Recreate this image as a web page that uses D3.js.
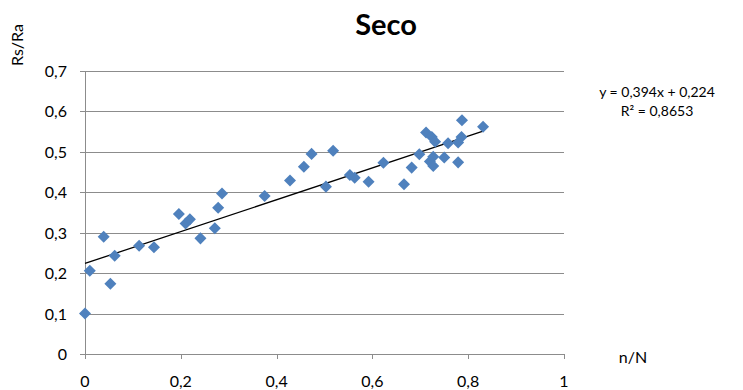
<!DOCTYPE html>
<html>
<head>
<meta charset="utf-8">
<script src="https://cdn.jsdelivr.net/npm/d3@7"></script>
<style>
  body { margin: 0; background: #fff; }
  svg { font-family: Lato, "Open Sans", sans-serif; }
</style>
</head>
<body>
<div id="chart"></div>
<script>
// n/N values
var xVals = [0.000, 0.010, 0.039, 0.053, 0.062, 0.113, 0.144, 0.196, 0.210, 0.219,
             0.241, 0.271, 0.278, 0.286, 0.375, 0.428, 0.457, 0.473, 0.503, 0.518,
             0.553, 0.563, 0.592, 0.623, 0.666, 0.682, 0.698, 0.712, 0.724, 0.731,
             0.720, 0.727, 0.727, 0.750, 0.758, 0.779, 0.786, 0.779, 0.787, 0.831];
// Rs/Ra values
var yVals = [0.100, 0.206, 0.290, 0.174, 0.243, 0.268, 0.264, 0.346, 0.323, 0.333,
             0.286, 0.311, 0.362, 0.397, 0.391, 0.429, 0.463, 0.495, 0.414, 0.503,
             0.443, 0.436, 0.426, 0.473, 0.420, 0.461, 0.494, 0.548, 0.537, 0.525,
             0.476, 0.488, 0.465, 0.486, 0.521, 0.523, 0.537, 0.474, 0.578, 0.562];

var xTicks = [0, 0.2, 0.4, 0.6, 0.8, 1];
var yTicks = [0, 0.1, 0.2, 0.3, 0.4, 0.5, 0.6, 0.7];

// linear trend shown on the chart
var slope = 0.394, intercept = 0.224;

var width = 743, height = 390;
var margin = {top: 71, right: 179, bottom: 36, left: 85};

var svg = d3.select("#chart").append("svg")
    .attr("width", width)
    .attr("height", height);

var x = d3.scaleLinear().domain([0, 1]).range([margin.left, width - margin.right]);
var y = d3.scaleLinear().domain([0, 0.7]).range([height - margin.bottom, margin.top]);

var fmt = function(d){ return d3.format("")(d).replace(".", ","); };

// horizontal gridlines
svg.selectAll(".grid")
    .data(yTicks)
    .enter()
    .append("line")
    .attr("x1", x(0) - 5)
    .attr("x2", x(1))
    .attr("y1", function(d){ return Math.round(y(d)) + 0.5; })
    .attr("y2", function(d){ return Math.round(y(d)) + 0.5; })
    .attr("stroke", "#8c8c8c")
    .attr("stroke-width", 1);

// y axis line
svg.append("line")
    .attr("x1", x(0) + 0.5).attr("x2", x(0) + 0.5)
    .attr("y1", y(0.7)).attr("y2", y(0))
    .attr("stroke", "#8c8c8c");

// x ticks
svg.selectAll(".xt")
    .data(xTicks)
    .enter()
    .append("line")
    .attr("x1", function(d){ return Math.round(x(d)) + 0.5; })
    .attr("x2", function(d){ return Math.round(x(d)) + 0.5; })
    .attr("y1", y(0))
    .attr("y2", y(0) + 5)
    .attr("stroke", "#8c8c8c");

svg.selectAll(".xl")
    .data(xTicks)
    .enter()
    .append("text")
    .attr("x", function(d){ return x(d); })
    .attr("y", y(0) + 33)
    .attr("text-anchor", "middle")
    .style("font-size", "16px")
    .attr("fill", "#000")
    .text(fmt);

svg.selectAll(".yl")
    .data(yTicks)
    .enter()
    .append("text")
    .attr("x", x(0) - 18)
    .attr("y", function(d){ return y(d) + 6; })
    .attr("text-anchor", "end")
    .style("font-size", "16px")
    .attr("fill", "#000")
    .text(fmt);

// trendline
var xExt = d3.extent(xVals);
svg.append("line")
    .attr("x1", x(xExt[0])).attr("y1", y(slope * xExt[0] + intercept))
    .attr("x2", x(xExt[1])).attr("y2", y(slope * xExt[1] + intercept))
    .attr("stroke", "#000")
    .attr("stroke-width", 1.3);

// points
var diamond = d3.symbol().type(d3.symbolDiamond2).size(92);
svg.selectAll(".pt")
    .data(xVals)
    .enter()
    .append("path")
    .attr("d", diamond)
    .attr("transform", function(d, i){ return "translate(" + x(d) + "," + y(yVals[i]) + ")"; })
    .attr("fill", "#4f81bd");

// title and axis labels
svg.append("text")
    .attr("x", 386).attr("y", 35)
    .attr("text-anchor", "middle")
    .style("font-size", "29px")
    .style("font-weight", "bold")
    .text("Seco");

svg.append("text")
    .attr("transform", "translate(23,45) rotate(-90)")
    .attr("text-anchor", "middle")
    .style("font-size", "16px")
    .text("Rs/Ra");

svg.append("text")
    .attr("x", 633).attr("y", 363)
    .attr("text-anchor", "middle")
    .style("font-size", "16px")
    .text("n/N");

// equation
svg.append("text")
    .attr("x", 657).attr("y", 97)
    .attr("text-anchor", "middle")
    .style("font-size", "14px")
    .text("y = " + fmt(slope) + "x + " + fmt(intercept));

svg.append("text")
    .attr("x", 657).attr("y", 116)
    .attr("text-anchor", "middle")
    .style("font-size", "14px")
    .text("R² = 0,8653");
</script>
</body>
</html>
